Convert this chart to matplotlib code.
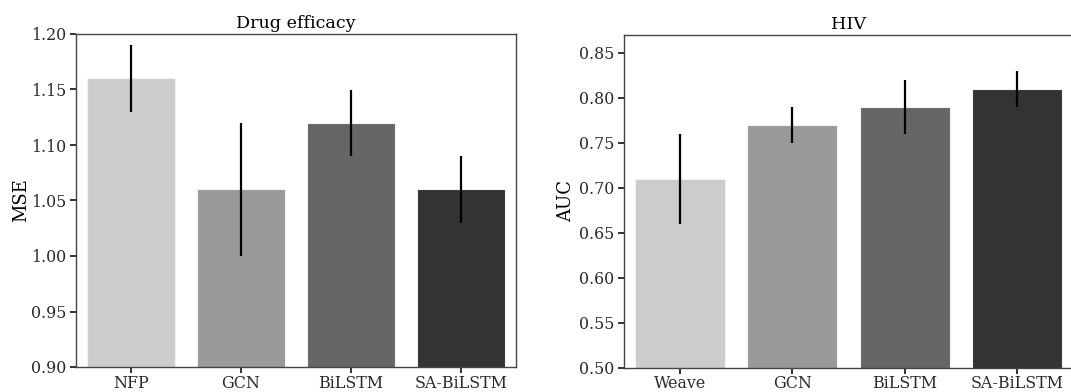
import matplotlib
matplotlib.use("Agg")
import matplotlib.pyplot as plt
import numpy as np

# Drug efficacy (MSE)
drug_models = ["NFP", "GCN", "BiLSTM", "SA-BiLSTM"]
drug_mse = [1.16, 1.06, 1.12, 1.06]
drug_err = [0.03, 0.06, 0.03, 0.03]

# HIV (AUC)
hiv_models = ["Weave", "GCN", "BiLSTM", "SA-BiLSTM"]
hiv_auc = [0.71, 0.77, 0.79, 0.81]
hiv_err = [0.05, 0.02, 0.03, 0.02]

bar_colors = ["#cccccc", "#999999", "#666666", "#333333"]

plt.rcParams["font.family"] = "DejaVu Serif"
plt.rcParams["font.size"] = 11.4

W, H = 1071, 392
fig = plt.figure(figsize=(W / 100, H / 100), dpi=100)

# axes placed in pixel coords (left, top, right, bottom)
ax1 = fig.add_axes([76 / W, 1 - 367 / H, (516 - 76) / W, (367 - 34) / H])
ax2 = fig.add_axes([624 / W, 1 - 367.5 / H, (1073 - 624) / W, (367.5 - 35) / H])


def draw(ax, names, vals, errs, ylim, yticks, ylabel, title, lpad):
    x = np.arange(len(names))
    ax.bar(x, vals, width=0.8, color=bar_colors, edgecolor="#f2f2f2", linewidth=0.8,
           yerr=errs, error_kw=dict(ecolor="black", elinewidth=1.6, capsize=0))
    ax.set_xlim(-0.5, len(names) - 0.5)
    ax.set_ylim(*ylim)
    ax.set_yticks(yticks)
    ax.set_yticklabels([f"{t:.2f}" for t in yticks])
    ax.set_xticks(x)
    ax.set_xticklabels(names)
    ax.set_ylabel(ylabel, fontsize=13, labelpad=lpad)
    ax.set_title(title, fontsize=12.6, pad=4)
    for s in ax.spines.values():
        s.set_color("#444444")
        s.set_linewidth(1.0)
    ax.tick_params(axis="both", direction="out", length=4, width=1.3,
                   color="#222222", labelcolor="#2a2a2a", pad=3)
    ax.tick_params(axis="x", pad=1.5)


draw(ax1, drug_models, drug_mse, drug_err, (0.9, 1.2),
     np.arange(0.90, 1.201, 0.05), "MSE", "Drug efficacy", 0.5)
draw(ax2, hiv_models, hiv_auc, hiv_err, (0.5, 0.87),
     np.arange(0.50, 0.851, 0.05), "AUC", "HIV", 2.5)

fig.savefig("out.png", dpi=100)
